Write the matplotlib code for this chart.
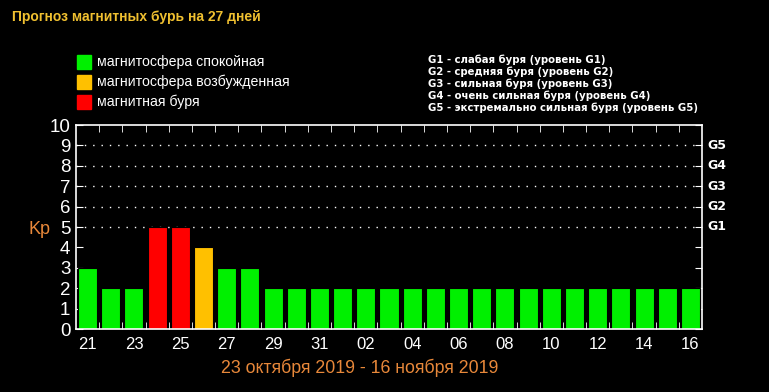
import matplotlib.pyplot as plt
import numpy as np

# Forecast data, 21 Oct - 16 Nov 2019
days = ["21", "22", "23", "24", "25", "26", "27", "28", "29", "30", "31",
        "01", "02", "03", "04", "05", "06", "07", "08", "09", "10",
        "11", "12", "13", "14", "15", "16"]
kp = [3, 2, 2, 5, 5, 4, 3, 3, 2, 2, 2,
      2, 2, 2, 2, 2, 2, 2, 2, 2, 2,
      2, 2, 2, 2, 2, 2]
g_levels = ["G1", "G2", "G3", "G4", "G5"]
g_desc = ["G1 - слабая буря (уровень G1)",
          "G2 - средняя буря (уровень G2)",
          "G3 - сильная буря (уровень G3)",
          "G4 - очень сильная буря (уровень G4)",
          "G5 - экстремально сильная буря (уровень G5)"]
legend_labels = ["магнитосфера спокойная", "магнитосфера возбужденная", "магнитная буря"]

GREEN = "#00f000"
YELLOW = "#ffc000"
RED = "#ff0000"
ORANGE = "#e8883a"
legend_colors = [GREEN, YELLOW, RED]


def kp_color(v):
    if v >= 5:
        return RED
    if v == 4:
        return YELLOW
    return GREEN


plt.rcParams["font.family"] = ["Liberation Sans", "DejaVu Sans"]

fig = plt.figure(figsize=(7.69, 3.92), dpi=100, facecolor="black")
ax = fig.add_axes([76 / 769, 1 - 329 / 392, 626 / 769, 204 / 392])
ax.set_facecolor("black")

x = np.arange(len(days))
ax.bar(x, kp, width=0.82, color=[kp_color(v) for v in kp],
       edgecolor="black", linewidth=0.8, zorder=2)

# dotted grid for G levels
for lvl in range(5, 10):
    ax.axhline(lvl, color="white", linestyle=(0, (1, 5)), linewidth=1, zorder=1)

ax.set_xlim(-0.5, len(days) - 0.5)
ax.set_ylim(0, 10)

for sp in ax.spines.values():
    sp.set_color("white")
    sp.set_linewidth(1.2)

ax.set_yticks(range(11))
ax.set_yticklabels([str(i) for i in range(11)], fontsize=13.5, color="white")
ax.tick_params(axis="y", direction="in", length=5, color="white", right=True, pad=4)

ax.set_xticks(x[::2])
ax.set_xticklabels(days[::2], fontsize=12, color="white")
ax.tick_params(axis="x", which="major", length=0, pad=6)
ax.set_xticks(x[:-1] + 0.5, minor=True)
ax.tick_params(axis="x", which="minor", direction="in", length=5, color="white",
               top=True, bottom=True)

# G labels on the right
for i, g in enumerate(g_levels):
    ax.text(1.009, (5 + i) / 10, g, transform=ax.transAxes, color="white",
            fontsize=9, fontweight="bold", family="DejaVu Sans", va="center")

ax.text(-0.058, 0.49, "Kp", transform=ax.transAxes, color=ORANGE, fontsize=13,
        va="center", ha="center")

fig.text(12 / 769, 1 - 17 / 392, "Прогноз магнитных бурь на 27 дней",
         color="#f0c030", fontsize=10, fontweight="bold", va="center")

# colour legend
for i, (lab, c) in enumerate(zip(legend_labels, legend_colors)):
    yc = 1 - (62 + 20 * i) / 392
    fig.patches.append(plt.Rectangle((77 / 769, yc - 7 / 392), 14 / 769, 14 / 392,
                                     transform=fig.transFigure, color=c))
    fig.text(97 / 769, yc, lab, color="white", fontsize=10.2, va="center")

for i, t in enumerate(g_desc):
    fig.text(428 / 769, 1 - (60 + 12 * i) / 392, t, color="white", fontsize=7.3,
             fontweight="bold", family="DejaVu Sans", va="center")

fig.text(360 / 769, 1 - 368 / 392, "23 октября 2019 - 16 ноября 2019",
         color=ORANGE, fontsize=12.8, ha="center", va="center")

fig.savefig("out.png", dpi=100, facecolor="black")
